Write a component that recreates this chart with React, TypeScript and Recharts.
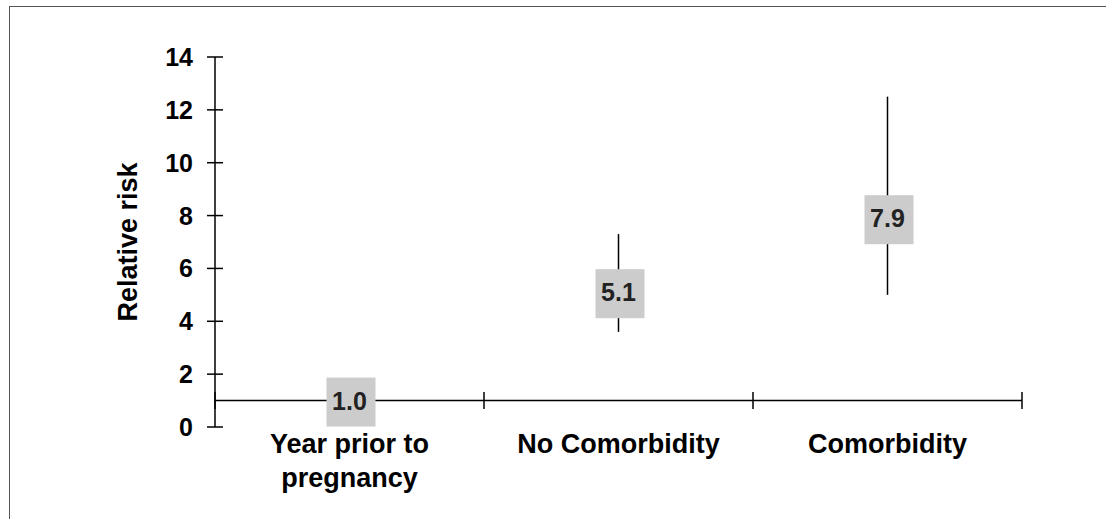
import { ComposedChart, Scatter, ErrorBar, XAxis, YAxis, ReferenceLine, ReferenceDot } from 'recharts';

const categories = ['Year prior to pregnancy', 'No Comorbidity', 'Comorbidity'];
const relativeRisk = [1.0, 5.1, 7.9];
const ciLower: (number | null)[] = [null, 3.6, 5.0];
const ciUpper: (number | null)[] = [null, 7.3, 12.5];
const yTicks = [0, 2, 4, 6, 8, 10, 12, 14];
const reference = 1;

const FONT = '"Liberation Sans", Arial, Helvetica, sans-serif';
const INK = '#000';

const rows = categories.map((name, i) => {
  const lo = ciLower[i];
  const hi = ciUpper[i];
  return {
    name,
    pos: i + 0.5,
    rr: relativeRisk[i],
    ci: lo == null || hi == null ? null : [relativeRisk[i] - lo, hi - relativeRisk[i]],
  };
});
const boundaries = categories.map((_, i) => i).concat(categories.length);

let measureCtx: CanvasRenderingContext2D | null = null;
function wrapWords(text: string, maxWidth: number, font: string) {
  if (!measureCtx) measureCtx = document.createElement('canvas').getContext('2d');
  if (!measureCtx) return [text];
  measureCtx.font = font;
  const lines: string[] = [];
  let cur = '';
  text.split(' ').forEach((w) => {
    const next = cur ? cur + ' ' + w : w;
    if (cur && measureCtx!.measureText(next).width > maxWidth) {
      lines.push(cur);
      cur = w;
    } else {
      cur = next;
    }
  });
  if (cur) lines.push(cur);
  return lines;
}

function YTick({ x, y, payload }: any) {
  return (
    <g>
      <line x1={x - 8} x2={x + 8} y1={y} y2={y} stroke={INK} strokeWidth={1.5} />
      <text x={x - 22} y={y + 9} textAnchor="end" fontSize={25} fontWeight="bold" fontFamily={FONT} fill={INK}>
        {payload.value}
      </text>
    </g>
  );
}

function XTick({ x, y, payload }: any) {
  const name = categories[Math.round(payload.value - 0.5)] ?? '';
  const lines = wrapWords(name, 235, `bold 27px ${FONT}`);
  return (
    <text x={x} y={y + 19.5} textAnchor="middle" fontSize={27} fontWeight="bold" fontFamily={FONT} fill={INK}>
      {lines.map((l, i) => (
        <tspan key={i} x={x} dy={i === 0 ? 0 : 34}>
          {l}
        </tspan>
      ))}
    </text>
  );
}

function YTitle({ viewBox }: any) {
  const cx = viewBox.x + 13;
  const cy = viewBox.y + viewBox.height / 2;
  return (
    <text
      x={cx}
      y={cy}
      transform={`rotate(-90 ${cx} ${cy})`}
      textAnchor="middle"
      dominantBaseline="central"
      fontSize={27}
      fontWeight="bold"
      fontFamily={FONT}
      fill={INK}
    >
      Relative risk
    </text>
  );
}

function RiskBox({ cx, cy, payload }: any) {
  return (
    <g>
      <rect x={cx - 23} y={cy - 23} width={49} height={49} fill="#cccccc" />
      <text x={cx} y={cy + 9} textAnchor="middle" fontSize={25} fontWeight="bold" fontFamily={FONT} fill="#222">
        {payload.rr.toFixed(1)}
      </text>
    </g>
  );
}

function BoundaryTick({ cx, cy }: any) {
  return <line x1={cx} x2={cx} y1={cy - 8.5} y2={cy + 8.5} stroke={INK} strokeWidth={1.5} />;
}

export default function App() {
  return (
    <div style={{ position: 'absolute', left: 0, top: 0, width: 1106, height: 519, background: '#fff' }}>
      <ComposedChart
        width={1106}
        height={519}
        data={rows}
        margin={{ top: 57, right: 84, bottom: 62, left: 115 }}
      >
        <XAxis
          dataKey="pos"
          type="number"
          domain={[0, categories.length]}
          ticks={rows.map((r) => r.pos)}
          height={30}
          axisLine={false}
          tickLine={false}
          tickSize={0}
          tickMargin={6}
          tick={<XTick />}
          interval={0}
        />
        <YAxis
          type="number"
          domain={[0, 14]}
          ticks={yTicks}
          width={100}
          interval={0}
          axisLine={{ stroke: INK, strokeWidth: 1.5 }}
          tickLine={false}
          tickSize={0}
          tickMargin={0}
          tick={<YTick />}
          label={<YTitle />}
        />
        <ReferenceLine y={reference} stroke={INK} strokeWidth={1.5} />
        {boundaries.map((b) => (
          <ReferenceDot key={b} x={b} y={reference} r={0} shape={<BoundaryTick />} />
        ))}
        <Scatter dataKey="rr" isAnimationActive={false} shape={<RiskBox />}>
          <ErrorBar dataKey="ci" direction="y" width={0} stroke={INK} strokeWidth={1.5} isAnimationActive={false} />
        </Scatter>
      </ComposedChart>
      <div
        style={{
          position: 'absolute',
          left: 9,
          top: 6,
          width: 1106,
          height: 519,
          borderTop: '1.5px solid #555',
          borderLeft: '1.5px solid #555',
          pointerEvents: 'none',
        }}
      />
    </div>
  );
}
